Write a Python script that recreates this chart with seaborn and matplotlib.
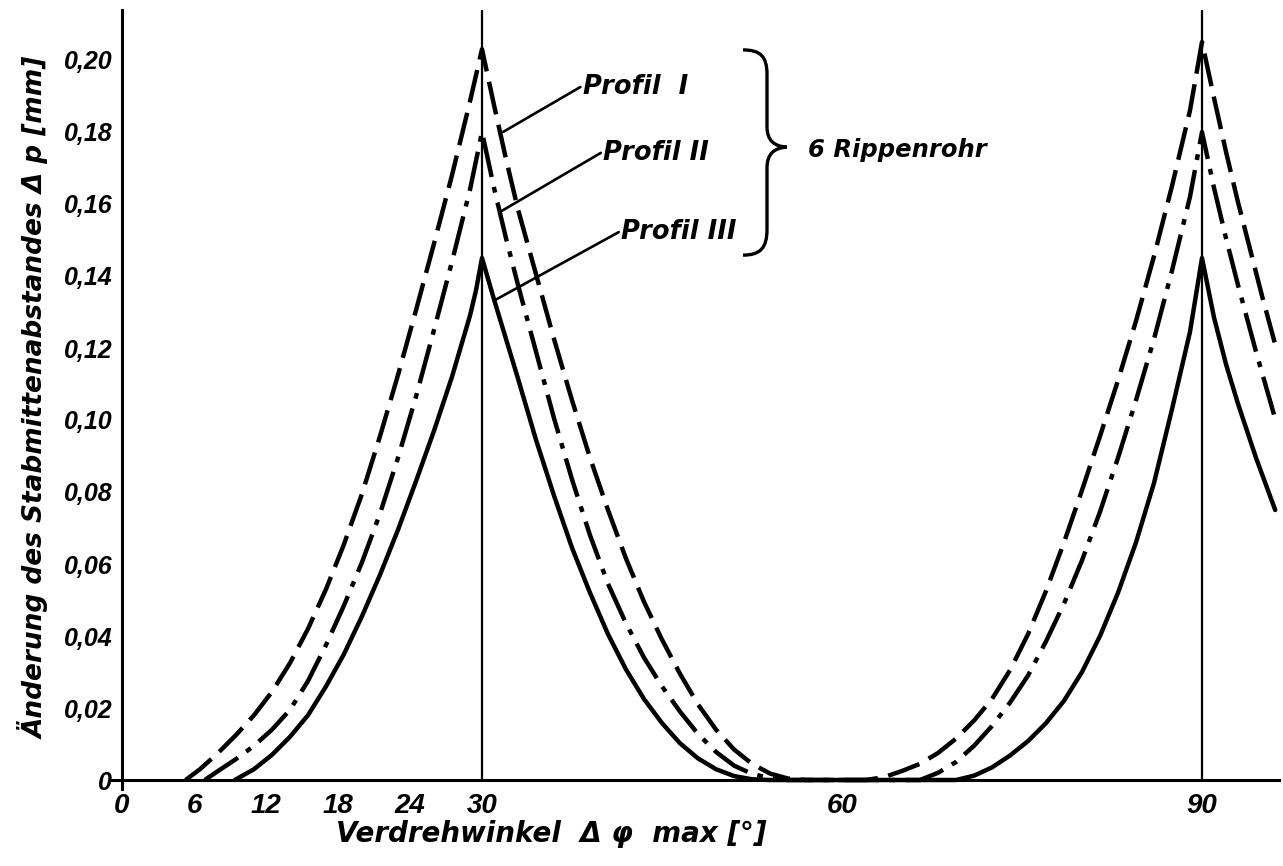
import matplotlib
matplotlib.use("Agg")
import matplotlib.pyplot as plt
from matplotlib.path import Path
from matplotlib.patches import PathPatch
import seaborn as sns

# ---- data ----
# Profil I (dashed)
x_p1 = [5.3, 6.5, 8.0, 9.5, 11.0, 12.5, 14.0, 15.5, 17.0, 18.5, 20.0, 21.5, 23.0, 24.5, 26.0, 27.5, 29.0, 30.0,
        31.0, 32.0, 33.0, 34.5, 36.0, 37.5, 39.0, 40.5, 42.0, 43.5, 45.0, 46.5, 48.0, 49.5, 51.0, 52.5, 54.0, 55.5, 57.0,
        62.0, 63.5, 65.0, 66.5, 68.0, 69.5, 71.0, 72.5, 74.0, 75.5, 77.0, 78.5, 80.0, 81.5, 83.0, 84.5, 86.0, 87.5, 89.0, 90.0,
        91.0, 92.0, 93.0, 94.0, 95.0, 96.1]
y_p1 = [0.000, 0.003, 0.0075, 0.0125, 0.018, 0.0245, 0.0325, 0.042, 0.053, 0.0655, 0.0795, 0.0955, 0.1125, 0.1305, 0.149, 0.168, 0.1885, 0.203,
        0.1875, 0.1725, 0.1585, 0.1405, 0.1225, 0.1055, 0.0895, 0.075, 0.0615, 0.0495, 0.039, 0.0295, 0.021, 0.014, 0.0085, 0.0045, 0.0018, 0.0004, 0.000,
        0.000, 0.0008, 0.0025, 0.0045, 0.0075, 0.0115, 0.0165, 0.0225, 0.0305, 0.0405, 0.0525, 0.066, 0.0805, 0.0955, 0.111, 0.1275, 0.1455, 0.165, 0.186, 0.205,
        0.1895, 0.1745, 0.1605, 0.1475, 0.1345, 0.121]

# Profil II (dash-dot)
x_p2 = [6.9, 8.0, 9.5, 11.0, 12.5, 14.0, 15.5, 17.0, 18.5, 20.0, 21.5, 23.0, 24.5, 26.0, 27.5, 29.0, 30.0,
        31.0, 32.0, 33.0, 34.5, 36.0, 37.5, 39.0, 40.5, 42.0, 43.5, 45.0, 46.5, 48.0, 49.5, 51.0, 52.5, 54.0, 55.5,
        66.5, 68.0, 69.5, 71.0, 72.5, 74.0, 75.5, 77.0, 78.5, 80.0, 81.5, 83.0, 84.5, 86.0, 87.5, 89.0, 90.0,
        91.0, 92.0, 93.0, 94.5, 96.0]
y_p2 = [0.000, 0.0025, 0.0058, 0.0095, 0.014, 0.0195, 0.0275, 0.0375, 0.0485, 0.0605, 0.074, 0.0895, 0.1065, 0.125, 0.144, 0.164, 0.180,
        0.1645, 0.1505, 0.1375, 0.119, 0.1005, 0.0835, 0.068, 0.0545, 0.0435, 0.034, 0.026, 0.019, 0.0128, 0.0078, 0.004, 0.0017, 0.0005, 0.000,
        0.000, 0.002, 0.005, 0.0095, 0.015, 0.0215, 0.029, 0.0385, 0.049, 0.061, 0.0745, 0.0895, 0.1055, 0.1225, 0.1415, 0.162, 0.180,
        0.1645, 0.1505, 0.1375, 0.119, 0.1015]

# Profil III (solid)
x_p3 = [9.4, 11.0, 12.5, 14.0, 15.5, 17.0, 18.5, 20.0, 21.5, 23.0, 24.5, 26.0, 27.5, 29.0, 29.5, 30.0,
        31.0, 32.0, 33.0, 34.5, 36.0, 37.5, 39.0, 40.5, 42.0, 43.5, 45.0, 46.5, 48.0, 49.5, 51.0, 52.5, 54.0,
        69.5, 71.0, 72.5, 74.0, 75.5, 77.0, 78.5, 80.0, 81.5, 83.0, 84.5, 86.0, 87.5, 89.0, 90.0,
        91.0, 92.0, 93.0, 94.5, 96.1]
y_p3 = [0.000, 0.003, 0.007, 0.012, 0.018, 0.026, 0.035, 0.0455, 0.057, 0.0695, 0.083, 0.097, 0.112, 0.129, 0.136, 0.145,
        0.1335, 0.1225, 0.1115, 0.0945, 0.079, 0.0645, 0.052, 0.0405, 0.0307, 0.0225, 0.0158, 0.0102, 0.006, 0.003, 0.0011, 0.0002, 0.000,
        0.000, 0.0012, 0.0035, 0.0068, 0.0108, 0.0158, 0.022, 0.030, 0.040, 0.052, 0.066, 0.0825, 0.103, 0.1245, 0.145,
        0.1285, 0.1155, 0.1045, 0.0895, 0.075]

x_tick_pos = [0, 6, 12, 18, 24, 30, 36, 42, 48, 54, 60, 66, 72, 78, 84, 90, 96]
x_tick_lab = ["0", "6", "12", "18", "24", "30", "", "", "", "", "60", "", "", "", "", "90", ""]
y_tick_pos = [0, 0.02, 0.04, 0.06, 0.08, 0.10, 0.12, 0.14, 0.16, 0.18, 0.20]
y_tick_lab = ["0", "0,02", "0,04", "0,06", "0,08", "0,10", "0,12", "0,14", "0,16", "0,18", "0,20"]
peak_lines = [30, 90]

labels = ["Profil  I", "Profil II", "Profil III"]
label_text_pos = [(38.4, 0.1925), (40.1, 0.1742), (41.6, 0.1522)]
label_curve_pos = [(31.75, 0.180), (31.5, 0.1578), (31.08, 0.1333)]
group_label = "6 Rippenrohr"

# ---- style ----
sns.set_theme(style="white")
plt.rcParams["font.family"] = ["DejaVu Sans"]
tick_family = ["Liberation Sans"]

W, H = 1283, 866
fig = plt.figure(figsize=(W / 100, H / 100), dpi=100)
xmin, xmax = -1.0, 96.4
ymin, ymax = -0.0025, 0.2139
px_per_x = 12.0
px_per_y = 3600.0
left_px = 122 + xmin * px_per_x
bottom_px = 780 + (-ymin) * px_per_y
ax = fig.add_axes([left_px / W, (H - bottom_px) / H,
                   (xmax - xmin) * px_per_x / W, (ymax - ymin) * px_per_y / H])
ax.set_xlim(xmin, xmax)
ax.set_ylim(ymin, ymax)

for s in ["top", "right"]:
    ax.spines[s].set_visible(False)
ax.spines["left"].set_position(("data", 0))
ax.spines["bottom"].set_position(("data", 0))
for s in ["left", "bottom"]:
    ax.spines[s].set_linewidth(2.2)
    ax.spines[s].set_color("black")

# peak verticals
for xv in peak_lines:
    ax.axvline(xv, ymin=(0 - ymin) / (ymax - ymin), ymax=1.0, color="black", lw=1.6, zorder=2)

lw = 3.2
sns.lineplot(x=x_p1, y=y_p1, ax=ax, color="black", lw=lw, sort=False, estimator=None,
             linestyle=(0, (7.5, 2.4)), zorder=3)
sns.lineplot(x=x_p2, y=y_p2, ax=ax, color="black", lw=lw, sort=False, estimator=None,
             linestyle=(0, (9.0, 2.3, 1.3, 2.3)), zorder=3)
sns.lineplot(x=x_p3, y=y_p3, ax=ax, color="black", lw=lw, sort=False, estimator=None,
             linestyle="-", zorder=3)

ax.set_xticks(x_tick_pos)
ax.set_xticklabels(x_tick_lab)
ax.set_yticks(y_tick_pos)
ax.set_yticklabels(y_tick_lab)
ax.tick_params(axis="both", direction="inout", width=2.2, color="black")
ax.tick_params(axis="y", length=12, pad=1)
ax.tick_params(axis="x", length=9, pad=5)
for t in ax.get_xticklabels():
    t.set_family(tick_family)
    t.set_style("italic")
    t.set_weight("bold")
    t.set_fontsize(20)
    t.set_color("black")
for t in ax.get_yticklabels():
    t.set_family(tick_family)
    t.set_style("italic")
    t.set_weight("bold")
    t.set_fontsize(18)
    t.set_color("black")

# leaders and profile labels
for lab, (tx, ty), (cx, cy) in zip(labels, label_text_pos, label_curve_pos):
    ax.plot([cx, tx - 0.2], [cy, ty], color="black", lw=1.9, zorder=4)
    ax.text(tx, ty, lab, ha="left", va="center", fontsize=18.5, fontstyle="italic",
            fontweight="bold", color="black")

# brace
verts = [(51.75, 0.2028), (53.2, 0.2028), (53.75, 0.2010), (53.75, 0.1960),
         (53.75, 0.1815),
         (53.75, 0.1775), (54.4, 0.1760), (55.4, 0.1758),
         (54.4, 0.1756), (53.75, 0.1741), (53.75, 0.1700),
         (53.75, 0.1530),
         (53.75, 0.1478), (53.2, 0.1458), (51.75, 0.1458)]
codes = [Path.MOVETO, Path.CURVE4, Path.CURVE4, Path.CURVE4,
         Path.LINETO,
         Path.CURVE4, Path.CURVE4, Path.CURVE4,
         Path.CURVE4, Path.CURVE4, Path.CURVE4,
         Path.LINETO,
         Path.CURVE4, Path.CURVE4, Path.CURVE4]
ax.add_patch(PathPatch(Path(verts, codes), fill=False, lw=2.4, edgecolor="black"))
ax.text(57.2, 0.175, group_label, ha="left", va="center", fontsize=17.5, fontstyle="italic",
        fontweight="bold", color="black")

# axis titles
fig.text(551 / W, 1 - 834 / H, "Verdrehwinkel  Δ φ  max [°]", ha="center", va="center",
         fontsize=20, fontstyle="italic", fontweight="bold", color="black")
fig.text(34 / W, 1 - 398 / H, "Änderung des Stabmittenabstandes Δ p [mm]", ha="center", va="center",
         rotation=90, fontsize=19, fontstyle="italic", fontweight="bold", color="black")

fig.savefig("out.png", dpi=100, facecolor="white")
